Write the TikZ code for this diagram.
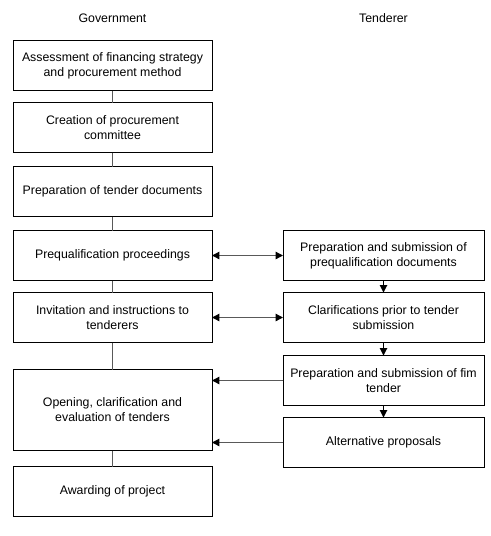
\documentclass[tikz,border=0pt]{standalone}
\usepackage{fontspec}
\setmainfont{Liberation Sans}
\usetikzlibrary{arrows.meta, positioning}
\tikzstyle{govbox} = [rectangle, draw=black, line width=0.75pt, minimum width=149.25pt, minimum height=37.5pt, align=center, inner sep=0pt, outer sep=0pt, font=\fontsize{9.25}{11.25}\selectfont]
\tikzstyle{tenbox} = [govbox, minimum width=150.75pt]
\tikzstyle{head} = [inner sep=0pt, font=\fontsize{9.25}{11.25}\selectfont]
\tikzstyle{link} = [draw=black!65, line width=1pt]
\tikzstyle{arrow} = [line width=0.75pt, -{Triangle[length=5.5pt,width=5.5pt]}]
\tikzstyle{toleft} = [link, -{Triangle[length=5.5pt,width=5.5pt,color=black]}]
\tikzstyle{both} = [link, {Triangle[length=5.5pt,width=5.5pt,color=black]}-{Triangle[length=5.5pt,width=5.5pt,color=black]}]

\begin{document}
\begin{tikzpicture}
\useasboundingbox (0,0) rectangle (368.25pt,-402pt);
\node (b1) [govbox] at (84.375pt,-49.125pt) {Assessment of financing strategy\\and procurement method};
\node (b2) [govbox, below=9pt of b1] {Creation of procurement\\committee};
\node (b3) [govbox, below=10.5pt of b2] {Preparation of tender documents};
\node (b4) [govbox, below=10.5pt of b3] {Prequalification proceedings};
\node (b5) [govbox, below=9pt of b4] {Invitation and instructions to\\tenderers};
\node (b6) [govbox, below=20.25pt of b5, minimum height=60.75pt] {Opening, clarification and\\evaluation of tenders};
\node (b7) [govbox, below=12pt of b6] {Awarding of project};

\node (r1) [tenbox, right=53.25pt of b4] {Preparation and submission of\\prequalification documents};
\node (r2) [tenbox, right=53.25pt of b5] {Clarifications prior to tender\\submission};
\node (r3) [tenbox, below=9.75pt of r2] {Preparation and submission of fim\\tender};
\node (r4) [tenbox, below=9pt of r3] {Alternative proposals};

\node (gov) [head, above=13pt of b1] {Government};
\node (ten) [head] at (r1 |- gov) {Tenderer};

\draw [link] (b1) -- (b2);
\draw [link] (b2) -- (b3);
\draw [link] (b3) -- (b4);
\draw [link] (b4) -- (b5);
\draw [link] (b5) -- (b6);
\draw [link] (b6) -- (b7);

\draw [arrow] (r1) -- (r2);
\draw [arrow] (r2) -- (r3);
\draw [arrow] (r3) -- (r4);

\draw [both] (b4) -- (r1);
\draw [both] (b5) -- (r2);
\draw [toleft] (r3.west) -- (r3.west -| b6.east);
\draw [toleft] (r4.west) -- (r4.west -| b6.east);
\end{tikzpicture}
\end{document}
